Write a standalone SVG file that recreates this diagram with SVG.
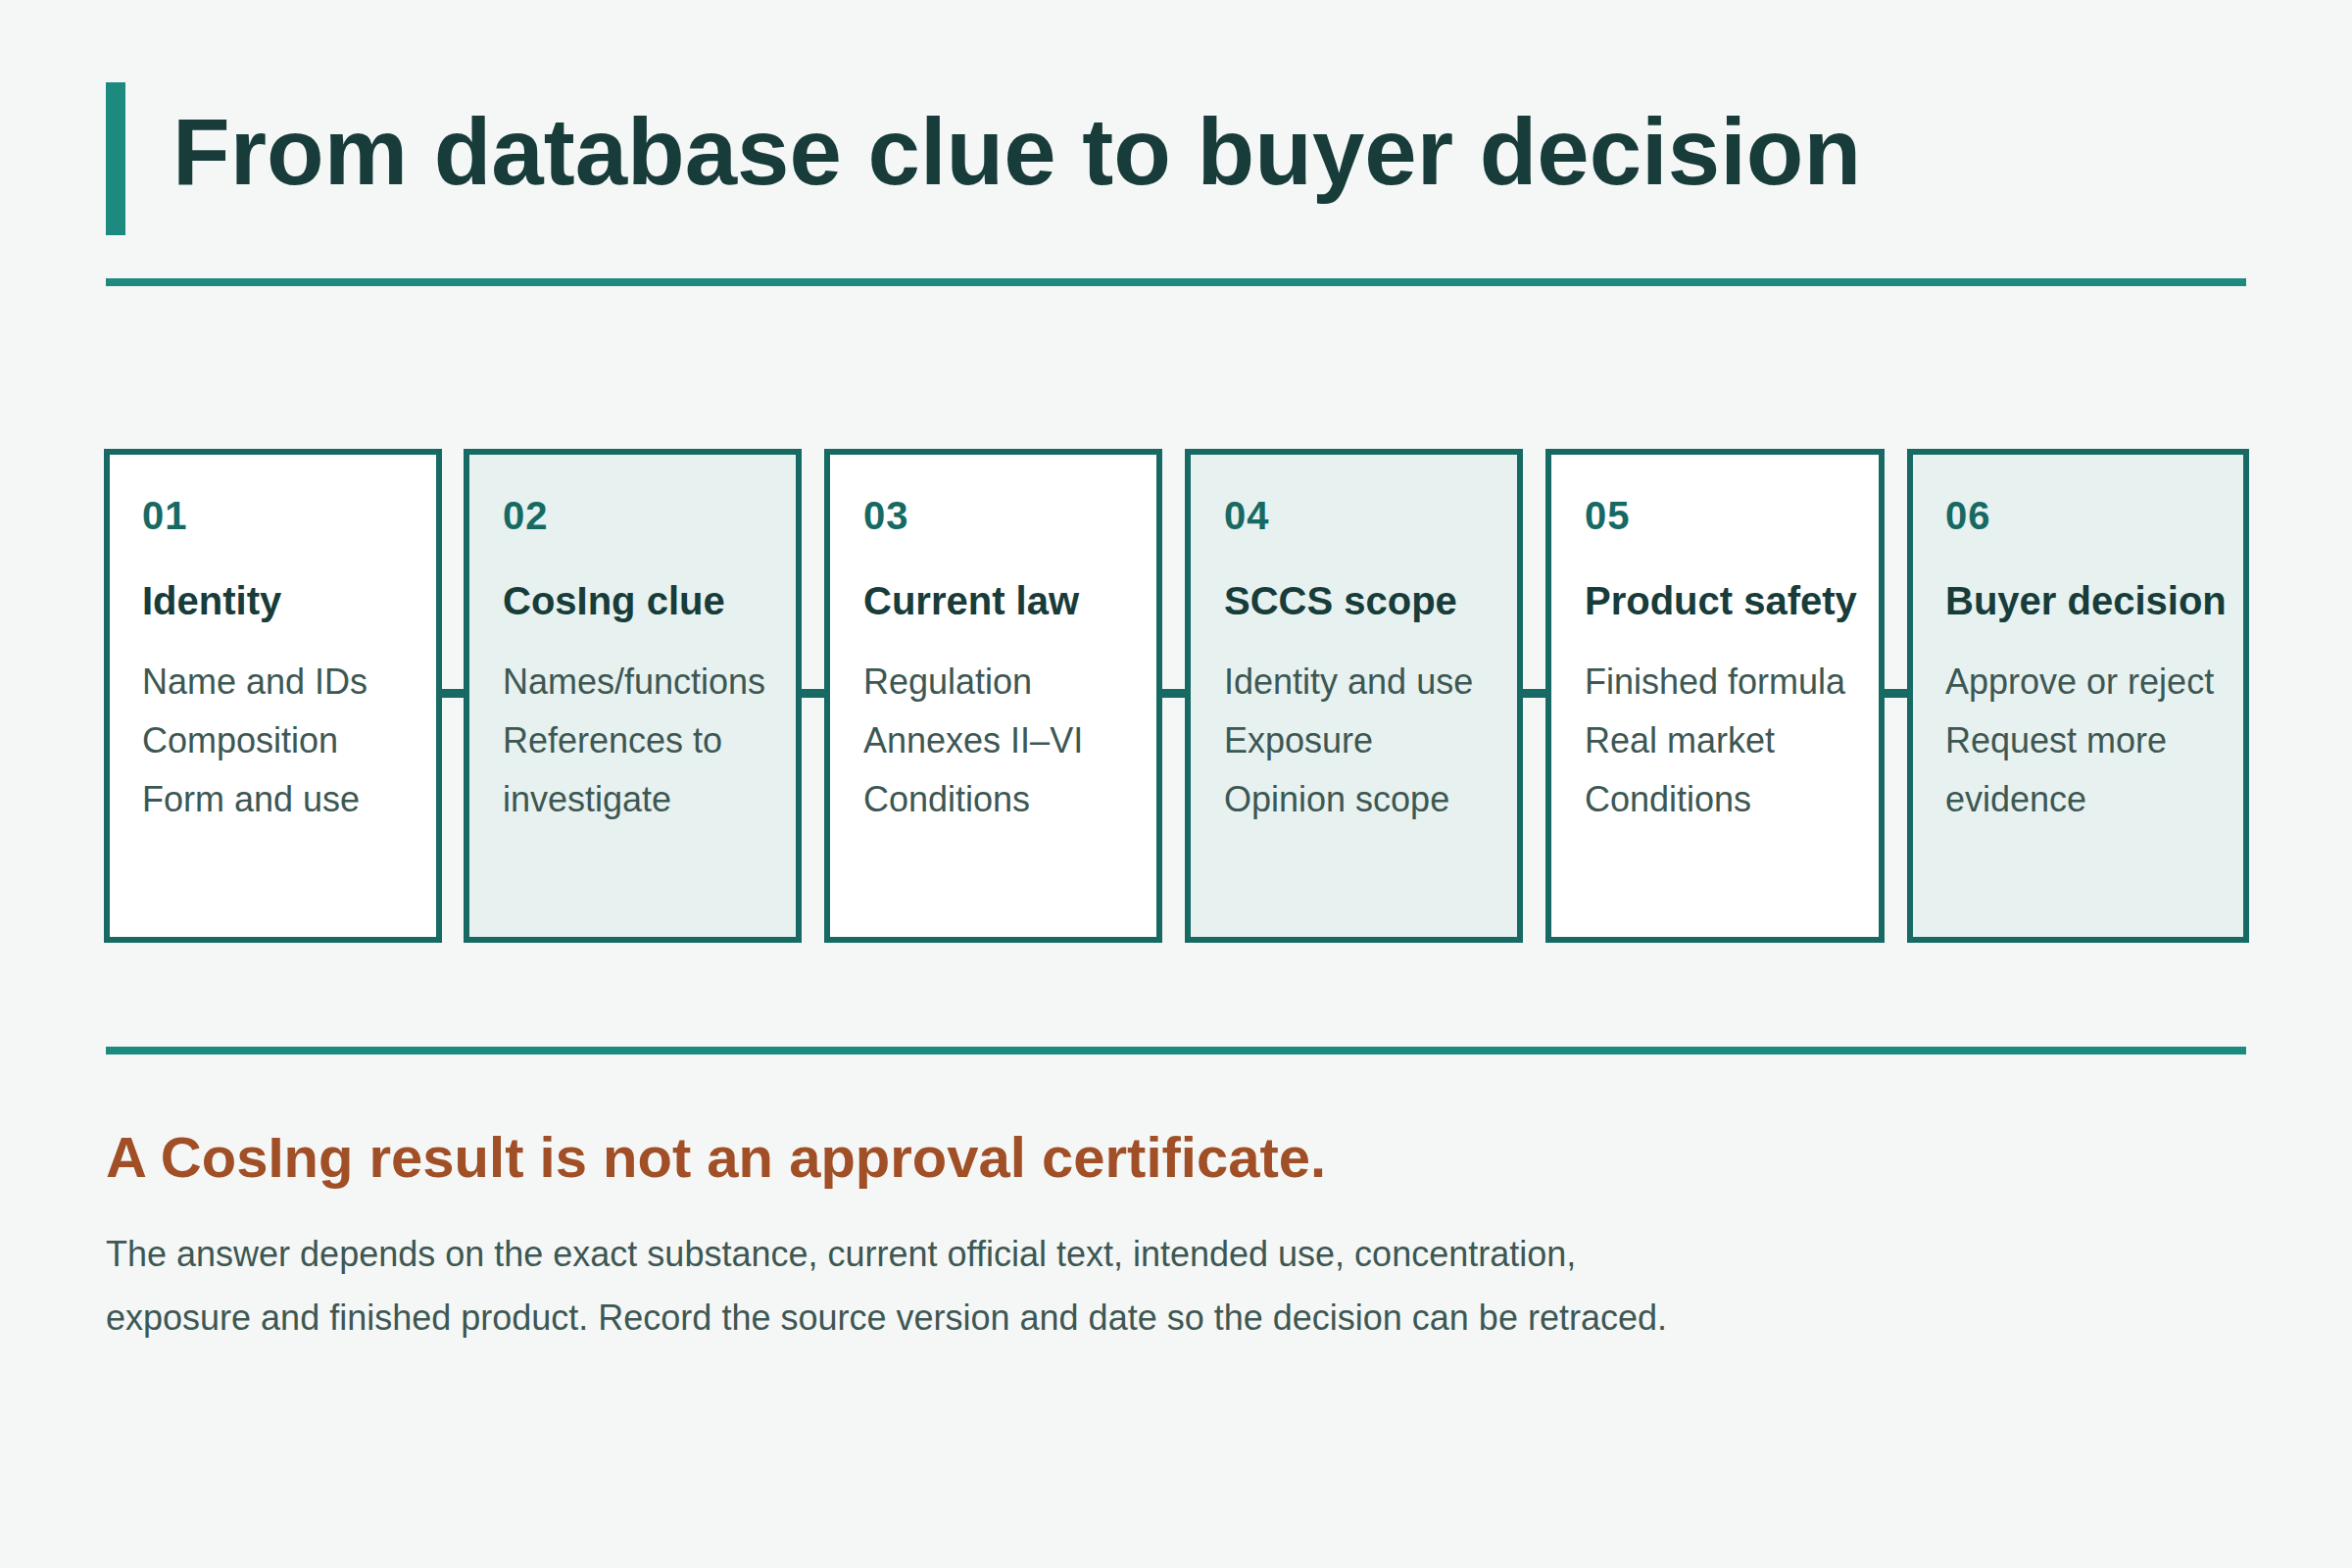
<svg xmlns="http://www.w3.org/2000/svg" width="2400" height="1600" viewBox="0 0 2400 1600">
<style>
.bg{fill:#f5f7f6}
.rule{fill:#1d8a80}
.box{stroke:#176a63;stroke-width:6}
.w{fill:#ffffff}
.t{fill:#e7f1ef}
.num{font-family:"Liberation Sans",Arial,sans-serif;font-weight:700;font-size:40px;fill:#176a63;letter-spacing:1px}
.head{font-family:"Liberation Sans",Arial,sans-serif;font-weight:700;font-size:40px;fill:#173c3a}
.body{font-family:"Liberation Sans",Arial,sans-serif;font-size:36px;fill:#3d5753}
.title{font-family:"Liberation Sans",Arial,sans-serif;font-weight:700;font-size:96px;fill:#173c3a}
.sub{font-family:"Liberation Sans",Arial,sans-serif;font-weight:700;font-size:58px;fill:#a04f26}
.conn{fill:#176a63}
</style>
<rect class="bg" x="0" y="0" width="2400" height="1600"/>
<g id="header">
<rect class="rule" x="108" y="84" width="20" height="156"/>
<text class="title" x="176" y="188">From database clue to buyer decision</text>
<rect class="rule" x="108" y="284" width="2184" height="8"/>
</g>
<g id="connectors">
<rect class="conn" x="450" y="703" width="24" height="9"/>
<rect class="conn" x="817" y="703" width="25" height="9"/>
<rect class="conn" x="1185" y="703" width="25" height="9"/>
<rect class="conn" x="1553" y="703" width="25" height="9"/>
<rect class="conn" x="1922" y="703" width="25" height="9"/>
</g>
<g id="step1">
<rect class="box w" x="109" y="461" width="339" height="498"/>
<text class="num" x="145" y="540">01</text>
<text class="head" x="145" y="627">Identity</text>
<text class="body" x="145" y="708">Name and IDs</text>
<text class="body" x="145" y="768">Composition</text>
<text class="body" x="145" y="828">Form and use</text>
</g>
<g id="step2">
<rect class="box t" x="476" y="461" width="339" height="498"/>
<text class="num" x="513" y="540">02</text>
<text class="head" x="513" y="627">CosIng clue</text>
<text class="body" x="513" y="708">Names/functions</text>
<text class="body" x="513" y="768">References to</text>
<text class="body" x="513" y="828">investigate</text>
</g>
<g id="step3">
<rect class="box w" x="844" y="461" width="339" height="498"/>
<text class="num" x="881" y="540">03</text>
<text class="head" x="881" y="627">Current law</text>
<text class="body" x="881" y="708">Regulation</text>
<text class="body" x="881" y="768">Annexes II–VI</text>
<text class="body" x="881" y="828">Conditions</text>
</g>
<g id="step4">
<rect class="box t" x="1212" y="461" width="339" height="498"/>
<text class="num" x="1249" y="540">04</text>
<text class="head" x="1249" y="627">SCCS scope</text>
<text class="body" x="1249" y="708">Identity and use</text>
<text class="body" x="1249" y="768">Exposure</text>
<text class="body" x="1249" y="828">Opinion scope</text>
</g>
<g id="step5">
<rect class="box w" x="1580" y="461" width="340" height="498"/>
<text class="num" x="1617" y="540">05</text>
<text class="head" x="1617" y="627">Product safety</text>
<text class="body" x="1617" y="708">Finished formula</text>
<text class="body" x="1617" y="768">Real market</text>
<text class="body" x="1617" y="828">Conditions</text>
</g>
<g id="step6">
<rect class="box t" x="1949" y="461" width="343" height="498"/>
<text class="num" x="1985" y="540">06</text>
<text class="head" x="1985" y="627">Buyer decision</text>
<text class="body" x="1985" y="708">Approve or reject</text>
<text class="body" x="1985" y="768">Request more</text>
<text class="body" x="1985" y="828">evidence</text>
</g>
<g id="footer">
<rect class="rule" x="108" y="1068" width="2184" height="8"/>
<text class="sub" x="108" y="1201">A CosIng result is not an approval certificate.</text>
<text class="body" x="108" y="1292">The answer depends on the exact substance, current official text, intended use, concentration,</text>
<text class="body" x="108" y="1357">exposure and finished product. Record the source version and date so the decision can be retraced.</text>
</g>
</svg>
